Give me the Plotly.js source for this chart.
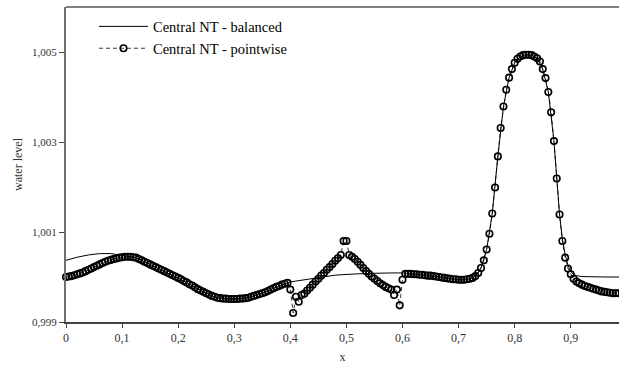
<!DOCTYPE html>
<html>
<head>
<meta charset="utf-8">
<script src="https://cdn.plot.ly/plotly-3.0.1.min.js"></script>
<style>html,body{margin:0;padding:0;background:#fff;}#chart{width:619px;height:369px;}</style>
</head>
<body>
<div id="chart"></div>
<script>
// Central NT - pointwise (markers every 0.005)
const xPointwise = [
0.000,0.005,0.010,0.015,0.020,0.025,0.030,0.035,0.040,0.045,0.050,0.055,0.060,0.065,0.070,0.075,0.080,0.085,0.090,0.095,
0.100,0.105,0.110,0.115,0.120,0.125,0.130,0.135,0.140,0.145,0.150,0.155,0.160,0.165,0.170,0.175,0.180,0.185,0.190,0.195,
0.200,0.205,0.210,0.215,0.220,0.225,0.230,0.235,0.240,0.245,0.250,0.255,0.260,0.265,0.270,0.275,0.280,0.285,0.290,0.295,
0.300,0.305,0.310,0.315,0.320,0.325,0.330,0.335,0.340,0.345,0.350,0.355,0.360,0.365,0.370,0.375,0.380,0.385,0.390,0.395,
0.400,0.405,0.410,0.415,0.420,0.425,0.430,0.435,0.440,0.445,0.450,0.455,0.460,0.465,0.470,0.475,0.480,0.485,0.490,0.495,
0.500,0.505,0.510,0.515,0.520,0.525,0.530,0.535,0.540,0.545,0.550,0.555,0.560,0.565,0.570,0.575,0.580,0.585,0.590,0.595,
0.600,0.605,0.610,0.615,0.620,0.625,0.630,0.635,0.640,0.645,0.650,0.655,0.660,0.665,0.670,0.675,0.680,0.685,0.690,0.695,
0.700,0.705,0.710,0.715,0.720,0.725,0.730,0.735,0.740,0.745,0.750,0.755,0.760,0.765,0.770,0.775,0.780,0.785,0.790,0.795,
0.800,0.805,0.810,0.815,0.820,0.825,0.830,0.835,0.840,0.845,0.850,0.855,0.860,0.865,0.870,0.875,0.880,0.885,0.890,0.895,
0.900,0.905,0.910,0.915,0.920,0.925,0.930,0.935,0.940,0.945,0.950,0.955,0.960,0.965,0.970,0.975,0.980,0.985
];
const yPointwise = [
1.00000,1.00001,1.00002,1.00004,1.00006,1.00008,1.00010,1.00013,1.00016,1.00019,1.00022,1.00025,1.00028,1.00031,1.00034,1.00036,1.00038,1.00040,1.00041,1.00043,
1.00044,1.00045,1.00045,1.00045,1.00044,1.00043,1.00040,1.00037,1.00034,1.00031,1.00028,1.00025,1.00022,1.00019,1.00016,1.00013,1.00010,1.00007,1.00004,1.00001,
0.99998,0.99995,0.99991,0.99988,0.99984,0.99981,0.99977,0.99973,0.99970,0.99967,0.99964,0.99961,0.99958,0.99956,0.99954,0.99953,0.99952,0.99952,0.99951,0.99951,
0.99951,0.99951,0.99952,0.99952,0.99953,0.99954,0.99956,0.99958,0.99960,0.99962,0.99964,0.99966,0.99969,0.99972,0.99975,0.99978,0.99980,0.99983,0.99985,0.99987,
0.99972,0.99920,0.99956,0.99945,0.99960,0.99963,0.99970,0.99976,0.99983,0.99990,0.99996,1.00003,1.00009,1.00016,1.00022,1.00029,1.00036,1.00042,1.00049,1.00080,
1.00080,1.00049,1.00045,1.00040,1.00034,1.00027,1.00020,1.00013,1.00007,1.00001,0.99996,0.99991,0.99986,0.99982,0.99978,0.99975,0.99972,0.99960,0.99972,0.99937,
0.99994,1.00007,1.00007,1.00007,1.00006,1.00006,1.00005,1.00005,1.00004,1.00003,1.00003,1.00002,1.00001,1.00000,0.99999,0.99998,0.99997,0.99996,0.99995,0.99995,
0.99994,0.99994,0.99994,0.99995,0.99996,0.99998,1.00002,1.00009,1.00020,1.00037,1.00061,1.00096,1.00141,1.00199,1.00268,1.00331,1.00379,1.00416,1.00443,1.00462,
1.00476,1.00485,1.00490,1.00493,1.00494,1.00494,1.00493,1.00490,1.00486,1.00479,1.00462,1.00442,1.00411,1.00366,1.00302,1.00219,1.00139,1.00080,1.00043,1.00019,
1.00006,0.99996,0.99990,0.99986,0.99983,0.99980,0.99978,0.99976,0.99974,0.99972,0.99970,0.99968,0.99967,0.99966,0.99965,0.99964,0.99964,0.99964
];
// Central NT - balanced (solid line)
const xBalanced = [
0.00,0.02,0.04,0.06,0.08,0.10,0.11,0.12,0.13,0.14,0.15,0.16,0.17,0.18,0.19,0.20,0.21,0.22,0.23,0.24,
0.25,0.26,0.27,0.28,0.29,0.30,0.31,0.32,0.33,0.34,0.35,0.36,0.37,0.38,0.39,0.395,0.40,0.41,0.42,0.43,
0.44,0.45,0.46,0.47,0.48,0.49,0.50,0.52,0.54,0.56,0.58,0.60,0.61,0.62,0.64,0.66,0.68,0.70,0.71,0.72,
0.73,0.74,0.75,0.76,0.77,0.78,0.79,0.80,0.81,0.82,0.83,0.84,0.85,0.86,0.87,0.88,0.885,0.89,0.895,0.90,
0.905,0.91,0.92,0.94,0.96,0.986
];
const yBalanced = [
1.00037,1.00044,1.00049,1.00052,1.00052,1.00048,1.00046,1.00044,1.00040,1.00034,1.00028,1.00022,1.00016,1.00010,1.00004,0.99998,0.99991,0.99984,0.99977,0.99970,
0.99964,0.99958,0.99954,0.99952,0.99951,0.99951,0.99952,0.99953,0.99956,0.99960,0.99964,0.99969,0.99975,0.99980,0.99985,0.99987,0.99989,0.99991,0.99993,0.99995,
0.99997,0.99999,1.00001,1.00003,1.00004,1.00005,1.00006,1.00007,1.00008,1.00009,1.00009,1.00009,1.00008,1.00006,1.00004,1.00001,0.99997,0.99994,0.99994,0.99996,
1.00002,1.00020,1.00061,1.00141,1.00268,1.00379,1.00443,1.00476,1.00490,1.00494,1.00493,1.00486,1.00462,1.00411,1.00302,1.00139,1.00085,1.00050,1.00026,1.00012,
1.00006,1.00003,1.00001,1.00000,1.00000,1.00000
];
const seriesNames = ["Central NT - balanced", "Central NT - pointwise"];
const xTickVals = [0,0.1,0.2,0.3,0.4,0.5,0.6,0.7,0.8,0.9];
const xTickText = ["0","0,1","0,2","0,3","0,4","0,5","0,6","0,7","0,8","0,9"];
const yTickVals = [0.999,1.001,1.003,1.005];
const yTickText = ["0,999","1,001","1,003","1,005"];

const serif = 'Liberation Serif, Times New Roman, serif';

const traces = [
  {x: xBalanced, y: yBalanced, name: seriesNames[0], type: 'scatter', mode: 'lines',
   line: {color: '#000', width: 1}, legendgroup: 'a'},
  {x: xPointwise, y: yPointwise, name: seriesNames[1], type: 'scatter', mode: 'lines+markers',
   line: {color: '#000', width: 0.8, dash: '4px,3px'},
   marker: {symbol: 'circle-open', size: 6.5, color: '#000', line: {color: '#000', width: 1.6}},
   legendgroup: 'b', cliponaxis: false}
];

const layout = {
  width: 619, height: 369,
  margin: {l: 66, r: 0, t: 7, b: 47},
  paper_bgcolor: '#fff', plot_bgcolor: '#fff',
  separators: ', ',
  font: {family: serif, size: 11, color: '#222'},
  showlegend: true,
  legend: {x: 0.0506, y: 0.989, xanchor: 'left', yanchor: 'top', bgcolor: 'rgba(0,0,0,0)',
           font: {family: serif, size: 14.5, color: '#000'}, itemwidth: 49,
           traceorder: 'grouped', tracegroupgap: 0},
  xaxis: {range: [0, 0.986], tickvals: xTickVals, ticktext: xTickText,
          showgrid: false, zeroline: false, showline: true, linecolor: '#444', linewidth: 1.5,
          ticks: 'outside', ticklen: 4, tickcolor: '#444', tickwidth: 1,
          tickfont: {family: serif, size: 12, color: '#333'},
          title: {text: 'x', font: {family: serif, size: 12, color: '#333'}, standoff: 8}},
  yaxis: {range: [0.999, 1.006], tickvals: yTickVals, ticktext: yTickText,
          showgrid: false, zeroline: false, showline: true, linecolor: '#707070', linewidth: 2,
          ticks: 'outside', ticklen: 5, tickcolor: '#444', tickwidth: 1,
          tickfont: {family: serif, size: 11, color: '#333'},
          title: {text: 'water level', font: {family: serif, size: 12, color: '#333'}, standoff: 7}},
  shapes: [
    {type: 'line', xref: 'paper', yref: 'paper', x0: 0, x1: 1, y0: 1, y1: 1,
     line: {color: '#808080', width: 2}}
  ]
};

Plotly.newPlot('chart', traces, layout, {displayModeBar: false, staticPlot: true});
</script>
</body>
</html>
